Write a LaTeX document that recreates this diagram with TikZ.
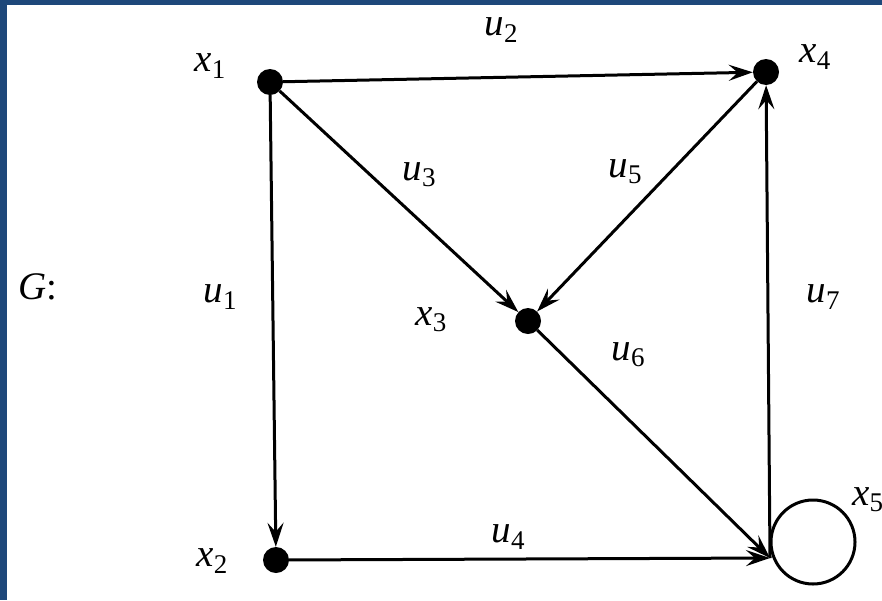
\documentclass[tikz,border=0pt]{standalone}
\usepackage{fontspec}
\setmainfont{Liberation Serif}
\usetikzlibrary{arrows.meta}
\definecolor{frameblue}{RGB}{30,72,122}
\newcommand\lbl[2]{\textit{#1}\raisebox{-0.35ex}{\fontsize{27}{29}\selectfont #2}}
\begin{document}
\begin{tikzpicture}[x=1pt,y=-1pt,
  vtx/.style={circle,fill=black,inner sep=0pt,minimum size=26pt},
  arc/.style={line width=3pt,-{Stealth[length=24pt,width=16pt,inset=9pt]}},
  lab/.style={font=\fontsize{39}{45}\selectfont,inner sep=0pt}]
\fill[frameblue] (0,0) rectangle (882,600);
\fill[white] (7,5) rectangle (882,600);
\useasboundingbox (0,0) rectangle (882,600);
% vertices
\node[vtx] (x1) at (270,82) {};
\node[vtx] (x4) at (766,72) {};
\node[vtx] (x3) at (528,321) {};
\node[vtx] (x2) at (276,560) {};
\node[circle,draw,line width=3pt,minimum size=84pt,inner sep=0pt] (x5) at (813,542) {};
\coordinate (j) at (770,558);
% edges
\draw[arc] (x1) -- (x4);
\draw[arc] (x1) -- (x2);
\draw[arc] (x1) -- (x3);
\draw[arc] (x4) -- (x3);
\draw[arc] (x3) -- (j);
\draw[arc] (x2) -- (j);
\draw[arc] (j) -- (x4);
% vertex labels
\node[lab] (lx1) at (210,66) {\lbl{x}{1}};
\node[lab] (lx2) at (212,561) {\lbl{x}{2}};
\node[lab] (lx3) at (431,320) {\lbl{x}{3}};
\node[lab] (lx4) at (815,57) {\lbl{x}{4}};
\node[lab,anchor=west] (lx5) at (852,500) {\lbl{x}{5}};
% edge labels
\node[lab] (lu1) at (220,297) {\lbl{u}{1}};
\node[lab] (lu2) at (501,30) {\lbl{u}{2}};
\node[lab] (lu3) at (419,175) {\lbl{u}{3}};
\node[lab] (lu4) at (508,537) {\lbl{u}{4}};
\node[lab] (lu5) at (625,172) {\lbl{u}{5}};
\node[lab] (lu6) at (628,355) {\lbl{u}{6}};
\node[lab] (lu7) at (823,297) {\lbl{u}{7}};
\node[lab] (G) at (38,287) {\textit{G}:};
\end{tikzpicture}
\end{document}
